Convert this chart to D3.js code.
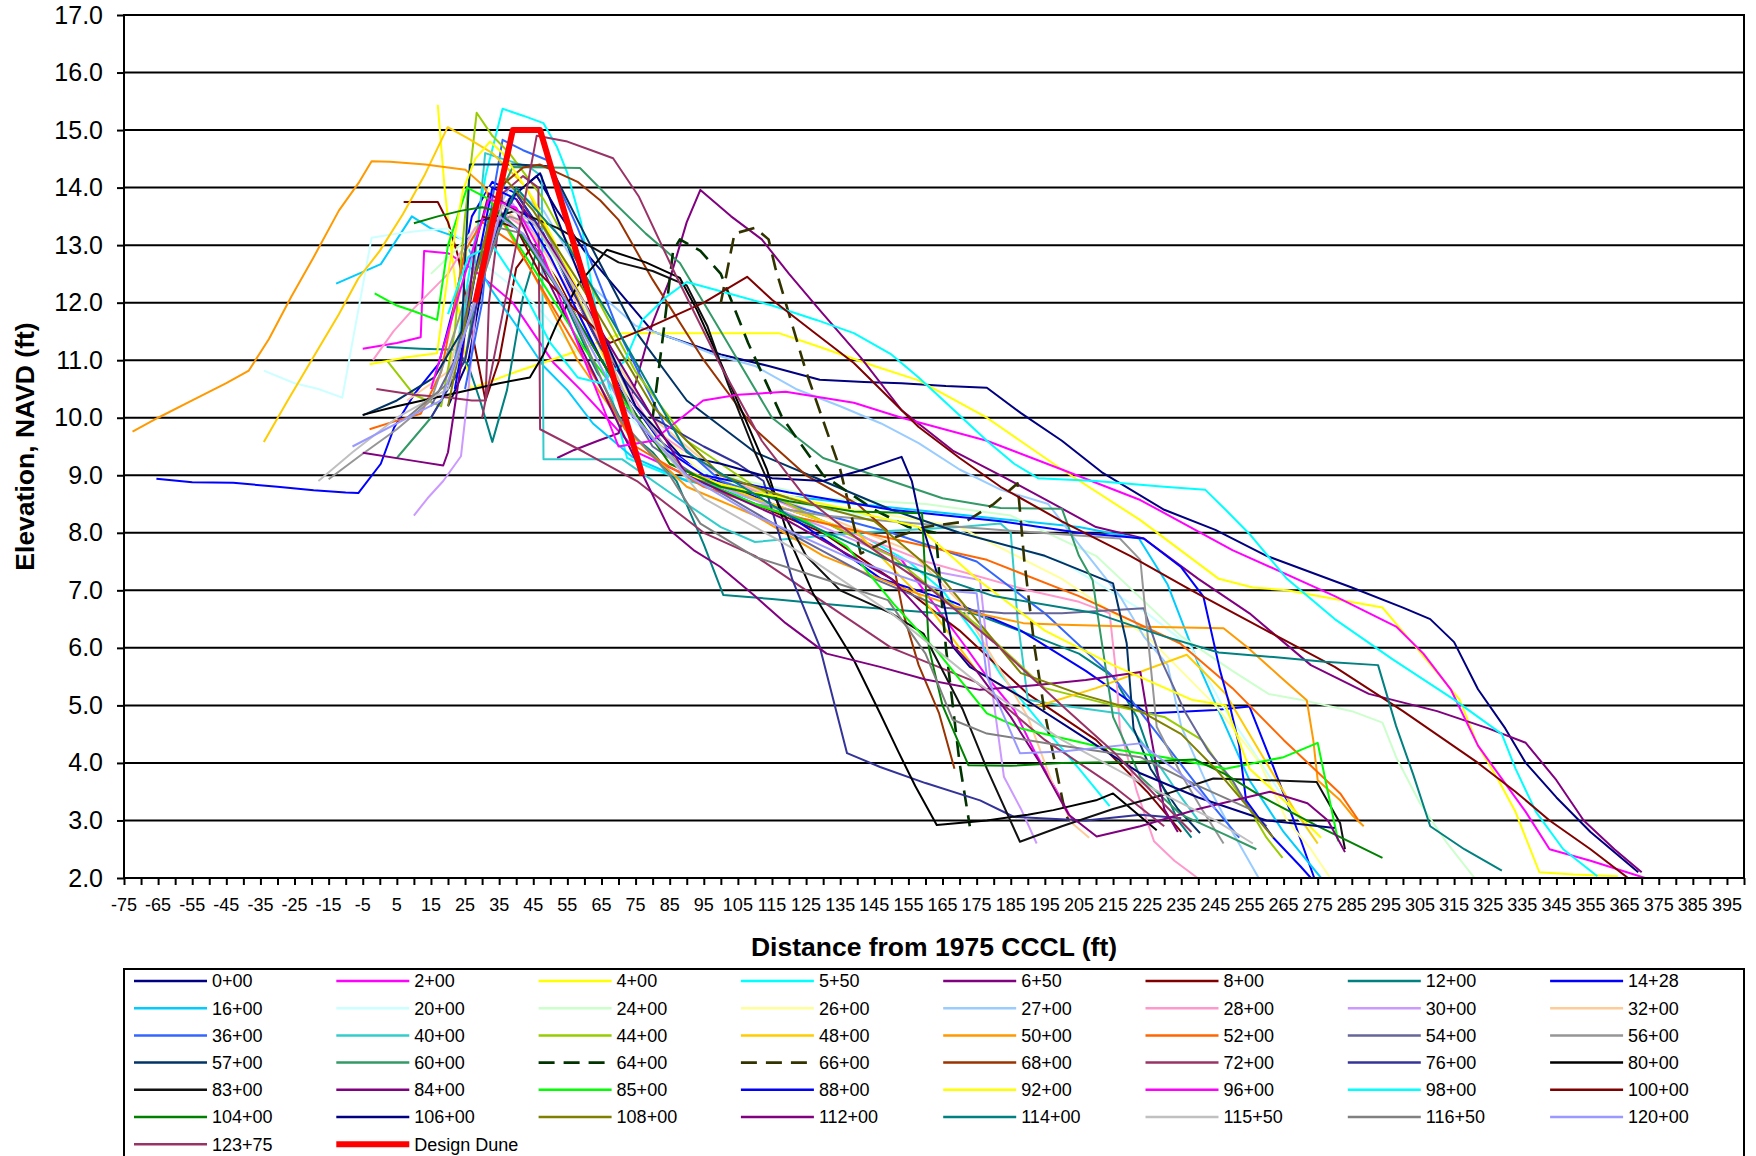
<!DOCTYPE html>
<html>
<head>
<meta charset="utf-8">
<script src="https://cdn.jsdelivr.net/npm/d3@7"></script>
<style>
  html, body { margin: 0; padding: 0; background: #fff; }
  svg text { font-family: "Liberation Sans", Arial, sans-serif; fill: #000; }
</style>
</head>
<body>
<svg id="chart" width="1756" height="1156"></svg>
<script>
// ---- data: beach profiles, [distance ft, elevation ft NAVD] ----
const s0_00 = [[20,10.2],[26,11.0],[31,12.6],[38,13.8],[46,14.2],[52,13.6],[60,12.9],[70,12.2],[80,11.5],[90,11.3],[100,11.1],[114,10.9],[129,10.66],[142,10.62],[153,10.6],[166,10.55],[178,10.52],[188,10.08],[200,9.6],[212,9.04],[230,8.4],[245,8.05],[260,7.6],[285,7.05],[300,6.7],[308,6.5],[315,6.1],[322,5.28],[330,4.6],[336,4.0],[345,3.4],[355,2.8],[369,2.1]];
const s2_00 = [[-5,11.2],[5,11.3],[12,11.4],[13,12.9],[20,12.86],[28,12.55],[39,12.0],[51,10.95],[59,10.48],[68,9.9],[76,9.38],[90,9.0],[110,8.6],[130,8.2],[153,7.53],[162,6.8],[171,6.08],[178,5.5],[186,4.92],[192,4.2],[200,3.35],[203,3.0]];
const s4_00 = [[17,15.44],[19,14.0],[21,12.9],[24,11.5],[26.5,10.5],[40,10.8],[55,11.1],[71,11.47],[90,11.47],[105,11.47],[117,11.47],[129,11.23],[145,10.9],[158,10.65],[178,10.0],[200,9.1],[223,8.22],[246,7.2],[256,7.05],[266,7.0],[280,6.85],[294,6.7],[304,6.0],[316.6,5.1],[322,4.3],[328,3.7],[333,3.15],[340,2.1],[350,2.06],[363,2.03]];
const s5_50 = [[22,11.0],[27,12.8],[31,14.2],[36,15.37],[42,15.25],[48,15.12],[52,14.7],[55,14.25],[59,13.4],[63,12.0],[67,10.6],[72.5,9.3],[85,9.0],[100,8.75],[120,8.4],[140,8.0],[155,7.5],[165,7.0],[175,6.2],[182,5.54],[195,4.6],[205,3.9],[214,3.25]];
const s6_50 = [[52,9.3],[57,9.44],[64,9.6],[70,9.73],[75,10.6],[80,11.65],[85,12.4],[90,13.4],[94,13.96],[103,13.5],[112,13.1],[120,12.5],[129,11.87],[141,11.05],[153,10.13],[168,9.43],[182,9.0],[197,8.52],[210,8.1],[224,7.9],[240,7.2],[255,6.6],[273,5.7],[290,5.2],[310,4.9],[325,4.6],[336,4.35],[345,3.7],[353,3.0],[362,2.5],[370,2.1]];
const s8_00 = [[7,13.75],[17,13.75],[20,13.4],[23,12.8],[27,11.5],[31,10.3],[35,11.0],[40,12.6],[45,13.0],[52,12.4],[60,11.5],[75,10.0],[90,9.0],[110,8.5],[130,8.0],[150,7.2],[170,6.3],[190,5.2],[210,4.4],[225,3.5],[235,2.8]];
const s12_00 = [[2,11.23],[12,11.2],[22.6,11.18],[26,10.9],[29.4,10.3],[33,9.58],[37.3,10.48],[42,12.1],[46,12.9],[52,12.3],[62,11.0],[72,9.8],[80,9.4],[87,8.9],[95,7.8],[100.7,6.92],[115,6.85],[129,6.77],[139,6.72],[164,6.6],[174,6.6],[192,6.2],[205,5.9],[215,5.5],[222,4.8],[228,3.8],[234,3.0],[238,2.7]];
const s14_28 = [[-65.5,8.94],[-55,8.88],[-43,8.87],[-30,8.8],[-19.4,8.74],[-10,8.7],[-6.3,8.69],[0.3,9.2],[4.2,9.83],[10,10.4],[17.3,10.94],[22,12.0],[27,13.5],[33,14.1],[40,13.9],[48,13.2],[58,12.0],[70,10.6],[82,9.6],[95,9.0],[115,8.5],[135,7.7],[147,7.2],[168,6.8],[188,6.3],[207,5.6],[225,4.86],[245,4.92],[255,4.98],[262,3.93],[268,3.0],[274,2.0]];
const s16_00 = [[-12.8,12.33],[0.3,12.67],[9.4,13.5],[14.7,13.3],[24.4,13.1],[33,12.2],[41,11.52],[48,10.9],[55,10.48],[62.5,9.9],[74,9.32],[90,8.9],[110,8.7],[140,8.5],[165,8.35],[182,8.24],[205,8.1],[222.6,7.9],[231,7.1],[240.8,5.6],[255,3.7],[265,2.8],[276,2.0]];
const s20_00 = [[-34,10.82],[-25,10.6],[-18,10.5],[-11,10.35],[-2.4,13.13],[5,13.2],[12,13.25],[19.9,13.29],[26,13.0],[32,12.6],[45,12.0],[60,11.0],[75,9.9],[90,9.2],[105,8.8],[130,8.4],[165,8.1],[200,7.5],[225,6.6],[238,6.0],[247,5.0],[255,4.3],[266,3.3],[275,2.6]];
const s24_00 = [[15,12.5],[22,12.9],[28,13.3],[35,13.8],[45,13.4],[60,11.9],[80,10.0],[100,9.0],[130,8.6],[160,8.5],[185,8.3],[210,7.6],[235,6.2],[250,5.6],[260.6,5.2],[270,5.1],[285,4.9],[294,4.7],[298,4.1],[305,3.3],[313,2.6],[321,2.0]];
const s26_00 = [[20,11.0],[26,13.0],[32,14.0],[42,13.5],[55,12.0],[75,10.2],[95,9.0],[130,8.5],[170,8.1],[200,7.2],[225,6.2],[245,5.0],[258,4.0],[266,3.0],[273,2.5],[278.7,2.0]];
const s27_00 = [[20,10.8],[26,12.0],[31,13.2],[38,14.0],[48,13.6],[60,12.4],[75,11.6],[85,11.4],[98,11.1],[110,10.9],[122,10.5],[135,10.2],[147,9.9],[158,9.56],[170,9.1],[182,8.75],[196,8.5],[205,7.8],[217,6.9],[224,6.2],[231,5.7],[235,4.63],[242,3.7],[250,2.8],[257.7,2.0]];
const s28_00 = [[-2,11.0],[4,11.5],[10,11.9],[20,12.5],[28,13.3],[35,13.6],[45,13.2],[60,11.8],[80,9.8],[100,9.0],[130,8.2],[160,7.5],[190,7.0],[205,6.8],[214,6.6],[216,5.5],[217,4.6],[222,3.5],[227,2.64],[233,2.3],[239.8,2.0]];
const s30_00 = [[10,8.3],[14,8.6],[18.6,8.9],[23.8,9.33],[26,10.5],[28,11.8],[32,13.5],[38,13.8],[50,12.8],[65,11.0],[80,9.6],[100,8.8],[130,8.1],[150,7.6],[165,7.3],[176,7.18],[179,5.5],[183,3.76],[188,3.2],[192.6,2.6]];
const s32_00 = [[8,10.3],[20,10.8],[26,12.0],[30,13.0],[35,13.7],[45,13.2],[60,11.8],[80,10.0],[100,9.0],[130,8.3],[155,7.7],[170,6.8],[180,5.8],[190,4.8],[197.5,3.6],[203,2.95],[208,2.7]];
const s36_00 = [[25,10.5],[30,12.0],[33,13.8],[36,14.83],[42,14.65],[49,14.48],[58,13.3],[70,11.5],[85,9.7],[100,8.9],[125,8.4],[150,8.0],[175,7.5],[195,6.6],[215,5.5],[232,4.2],[245,3.2],[252,2.7]];
const s40_00 = [[22,11.0],[28,12.8],[30.9,14.6],[36,14.5],[44,14.35],[47.5,14.2],[48,9.28],[60,9.28],[71,9.28],[85,8.7],[100,8.1],[110,7.84],[140,8.0],[170,8.1],[182,8.16],[185,8.0],[187,6.5],[190,5.1],[200,5.0],[217,4.86],[228,4.0],[235,3.4],[240,3.0]];
const s44_00 = [[2,11.0],[10,10.4],[18,10.2],[22,11.5],[25,13.5],[28.4,15.3],[33,14.9],[38,14.6],[48,13.8],[60,12.5],[75,10.8],[90,9.6],[110,8.8],[130,8.2],[150,7.6],[175,6.4],[195,5.3],[215,5.0],[230,4.8],[241,4.4],[248,3.8],[255,3.2],[260,2.7],[264.7,2.35]];
const s48_00 = [[-34,9.58],[-27,10.3],[-19.4,11.06],[-12,11.8],[-6.3,12.42],[0,12.9],[6.8,13.54],[13,14.2],[19.9,15.05],[26,14.85],[33,14.6],[43,14.0],[55,12.5],[70,10.5],[85,9.2],[110,8.6],[140,8.0],[160,6.8],[175,5.6],[192.6,4.98],[210,5.3],[236.6,5.88],[248,5.2],[258,4.2],[268,3.2],[275,2.6]];
const s50_00 = [[-72.5,9.76],[-65,10.0],[-55,10.3],[-45,10.6],[-38.4,10.82],[-32.5,11.37],[-26,12.1],[-19.4,12.79],[-12,13.6],[-6,14.1],[-2.4,14.46],[3,14.45],[13.4,14.4],[20,14.35],[25.1,14.31],[30.4,14.03],[36,13.4],[45,12.5],[58,11.0],[72,9.8],[90,8.8],[110,8.3],[130,7.6],[155,7.0],[175,6.6],[188.7,6.43],[200.4,6.4],[220,6.37],[247.4,6.34],[254.2,6.02],[264,5.5],[271.8,5.09],[273.7,4.4],[275,3.7],[281.6,3.35],[285,3.1],[288.5,2.9]];
const s52_00 = [[-3,9.8],[5,9.95],[12,10.07],[18,10.8],[22,12.0],[25,12.9],[30,13.4],[40,13.0],[55,11.5],[75,9.5],[95,8.8],[120,8.3],[150,7.9],[178,7.53],[205,6.9],[234.6,6.08],[250,5.3],[265,4.4],[281.6,3.47],[287,3.0]];
const s54_00 = [[15,10.2],[22,11.0],[28,12.5],[35,13.6],[45,13.0],[60,11.5],[80,9.5],[100,8.7],[120,8.0],[145,7.2],[165,6.7],[183,6.6],[200,6.6],[224,6.69],[229,5.8],[236,4.9],[243,4.2],[250,3.7],[255,3.2],[260,2.9]];
const s56_00 = [[-15,8.93],[-6,9.33],[5,9.8],[15,10.3],[22,11.5],[30,13.0],[38,13.5],[48,13.3],[60,12.0],[75,10.2],[90,9.0],[110,8.5],[130,8.3],[160,8.15],[182,8.05],[217,7.9],[223,7.53],[224.9,6.37],[227.8,4.63],[235,3.8],[241,3.2],[247.4,2.6]];
const s57_00 = [[-5,10.04],[5,10.3],[16,10.7],[24,11.5],[26.4,14.4],[40,14.4],[50,14.37],[60,13.2],[75,11.5],[90,10.3],[110,9.4],[130,8.9],[150,8.4],[170,8.0],[195,7.6],[215,7.12],[219,6.08],[221,4.6],[226,3.9],[234,3.2],[240.5,2.78]];
const s60_00 = [[5,9.3],[15,10.0],[25,11.0],[32,13.5],[39,14.36],[50,14.35],[58.7,14.34],[68,13.78],[78,13.2],[88,12.69],[100,11.5],[115,10.0],[130,9.3],[150,8.9],[165,8.6],[182,8.43],[200,8.42],[205,7.6],[209,7.18],[211,6.37],[215,4.8],[223,3.76],[235,3.1],[248,2.75],[257,2.5]];
const s64_00 = [[80,10.0],[83,11.4],[86,12.9],[88,13.1],[94,12.9],[100,12.5],[108,11.3],[118,10.0],[130,9.0],[145,8.4],[155,8.1],[163,8.0],[166,6.0],[170,4.0],[173,2.9]];
const s66_00 = [[100,12.0],[104,13.2],[110,13.3],[114,13.1],[116,12.6],[125,10.8],[135,9.1],[141,7.64],[150,7.9],[160,8.1],[172,8.2],[180,8.5],[187,8.86],[189,7.5],[192,6.0],[195,4.86],[201,3.12],[202,3.0]];
const s68_00 = [[28,12.5],[35,14.0],[42,14.35],[47,14.4],[58,14.1],[64.6,13.78],[70,13.44],[80,12.4],[95,11.0],[110,9.8],[125,9.0],[140,8.5],[148.6,8.05],[153.5,6.6],[158,5.7],[164,4.86],[168.5,3.9]];
const s72_00 = [[-1,10.5],[10,10.4],[20,10.35],[27,10.3],[31,10.3],[32,12.0],[36,13.9],[42,14.2],[46.5,14.0],[47,9.8],[60,9.4],[75.4,8.9],[95,8.0],[110,7.6],[130,6.8],[150,6.0],[175,5.4],[195,4.4],[215,3.6],[230,2.9]];
const s76_00 = [[15,10.0],[25,11.0],[32,13.0],[40,13.9],[50,13.0],[65,11.2],[80,10.0],[95,9.5],[105,9.2],[112.5,8.9],[121,7.18],[129,6.02],[137,4.17],[146.7,3.93],[160,3.65],[176,3.35],[186,3.06],[207,3.0],[223,3.1],[235,3.04]];
const s80_00 = [[-5,10.05],[5,10.2],[20,10.4],[35,10.6],[44,10.7],[48,11.1],[52,11.64],[58,12.3],[66.6,12.92],[78,12.7],[88,12.43],[93,11.87],[100,10.95],[107,10.0],[113.5,9.1],[120,7.9],[127,6.95],[139,5.79],[146.7,4.86],[152,4.2],[157,3.6],[163.3,2.92],[178,3.0],[190,3.1],[197.5,3.18],[210,3.35],[215,3.47],[227.8,2.83]];
const s83_00 = [[28,13.4],[40,13.6],[52,13.3],[60,13.04],[70,12.7],[80,12.55],[90,12.3],[96,11.6],[102,10.6],[110,9.4],[116,8.6],[125,7.6],[135,7.0],[150,6.6],[159.4,6.25],[171,4.92],[178,3.9],[187.7,2.63],[200,2.9],[215,3.2],[230,3.45],[244.4,3.73],[260,3.7],[274.7,3.67],[281.6,2.95],[283,2.5]];
const s84_00 = [[-5,9.39],[10,9.25],[18.6,9.17],[20,9.4],[24,11.0],[28,13.0],[32,13.9],[40,13.6],[50,12.3],[65,10.5],[78,8.9],[85,8.05],[92,7.7],[99.8,7.41],[110,6.9],[119,6.43],[131,5.9],[146.7,5.67],[160,5.45],[176,5.27],[192,5.35],[207,5.44],[223,5.58],[226,4.5],[230,3.2],[234,2.8]];
const s85_00 = [[-1.5,12.16],[5,11.95],[10,11.85],[16.8,11.7],[20,13.0],[25.6,14.0],[32,13.8],[45,12.6],[60,11.2],[75,10.0],[90,9.0],[110,8.5],[125,8.2],[137,7.76],[150.6,6.77],[164,5.9],[178,4.86],[188,4.6],[211,4.28],[230,4.1],[248,3.9],[265,4.1],[275,4.35],[281,2.64]];
const s88_00 = [[22,10.5],[28,12.5],[33,14.0],[40,13.8],[50,12.8],[65,11.0],[80,9.6],[95,9.0],[120,8.7],[150,8.4],[182,8.2],[205,8.0],[224,7.9],[235,7.4],[241.5,6.89],[246.4,5.6],[249.3,4.98],[252,4.3],[254,3.35],[262,2.7],[270,2.2],[273,2.0]];
const s92_00 = [[-3,10.93],[8,11.05],[16.8,11.12],[20,12.5],[24.4,13.96],[28,14.5],[32.3,14.8],[36,14.6],[45,13.8],[60,12.0],[75,10.0],[90,9.0],[110,8.7],[130,8.5],[158,8.1],[175,7.2],[195,6.3],[215,5.7],[238,5.1],[248,5.0],[255,3.9],[266,3.3],[276,2.7]];
const s96_00 = [[15,10.5],[25,12.5],[32,13.8],[40,13.65],[48,12.8],[60,11.0],[70,9.5],[80,9.6],[94.8,10.3],[105,10.4],[119,10.45],[139,10.26],[153,10.0],[178,9.6],[200,9.1],[223,8.57],[250,7.7],[280,6.9],[298,6.37],[306,5.9],[314,5.28],[322,4.3],[336,3.15],[343,2.5],[355,2.3],[371,2.0]];
const s98_00 = [[20,11.8],[26,12.8],[33,13.0],[42,12.2],[50,11.3],[58,10.7],[65,10.6],[72,11.0],[77,11.7],[84,12.1],[90,12.36],[100,12.2],[115,11.95],[128,11.7],[139,11.47],[150,11.1],[158,10.7],[168,10.15],[178,9.6],[186,9.2],[193,8.95],[210,8.9],[230,8.8],[242,8.75],[248,8.4],[255,7.98],[266,7.2],[280,6.5],[297,5.8],[315,5.1],[329,4.5],[333,3.9],[339,3.15],[347,2.5],[357,2.03]];
const s100_00 = [[30,13.5],[40,13.3],[47,12.5],[57,11.9],[67.5,11.3],[80,11.6],[95,12.0],[107.7,12.45],[115,12.05],[127,11.5],[139,10.95],[158,9.84],[170,9.3],[182,8.8],[200,8.2],[220,7.6],[238,7.0],[260,6.3],[280,5.67],[300,4.9],[322,4.0],[333,3.5],[343,3.0],[355,2.5],[366,2.0]];
const s104_00 = [[10,13.38],[17,13.5],[24,13.6],[30,13.66],[34,13.6],[40,13.3],[55,12.0],[70,10.5],[85,9.2],[100,8.8],[120,8.55],[139,8.37],[159,8.34],[161,6.0],[165,5.0],[172.6,3.96],[185,3.95],[200,4.0],[223,4.02],[239,4.06],[248,3.8],[259,3.4],[275,2.9],[294,2.35]];
const s106_00 = [[20,10.5],[30,12.5],[38,13.8],[47,14.25],[55,13.0],[65,11.5],[75,10.2],[88,9.35],[100,9.2],[115,8.95],[130,8.9],[142,9.1],[153,9.32],[156,8.9],[158,8.34],[164,7.18],[168,6.02],[173,5.67],[188,5.15],[205,4.5],[223,3.82],[240,3.4],[260,3.0],[280,2.87]];
const s108_00 = [[20,10.2],[28,12.5],[36,14.2],[45,13.6],[60,12.2],[80,10.2],[100,9.0],[120,8.6],[145,8.2],[165,7.2],[188,5.56],[205,5.2],[223,4.9],[235,4.5],[245,3.9],[255,3.2],[262,2.7]];
const s112_00 = [[40,13.8],[50,13.0],[70,11.0],[90,9.0],[120,8.2],[150,7.2],[175,5.6],[185,4.8],[193.6,4.0],[202,3.1],[210.2,2.72],[223,2.9],[240,3.2],[261,3.5],[272,3.3],[278,3.0],[283,2.45]];
const s114_00 = [[30,12.5],[40,14.0],[55,13.0],[70,11.5],[90,9.4],[120,8.3],[150,7.5],[180,6.9],[210,6.6],[230,6.2],[246,5.92],[262,5.84],[277,5.76],[292.7,5.7],[298,4.64],[303,3.8],[308,2.9],[318,2.5],[329,2.13]];
const s115_50 = [[-18,8.9],[-8,9.4],[5,10.0],[20,10.5],[30,12.5],[36,13.7],[45,13.4],[60,12.0],[75,10.0],[95,8.6],[125,7.6],[150,6.6],[175,5.4],[200,4.4],[225,3.6],[245,3.0],[256,2.6]];
const s116_50 = [[8,10.0],[20,10.6],[28,12.0],[35,13.3],[42,13.2],[55,12.0],[70,10.0],[85,9.0],[94,8.16],[110,7.58],[130,7.2],[149,6.83],[160,5.9],[168,4.75],[178,4.51],[200,4.3],[223,4.1],[240,3.6],[255,3.2]];
const s120_00 = [[-8,9.5],[5,9.9],[18,10.3],[28,12.0],[35,13.5],[42,13.2],[55,12.0],[70,10.3],[90,9.0],[110,8.3],[140,7.5],[165,7.0],[175,6.95],[178,5.5],[187.7,4.17],[200,4.2],[223,4.34],[235,3.8],[245,3.2]];
const s123_75 = [[30,10.0],[36,11.8],[40,13.0],[46,14.9],[55,14.8],[62,14.65],[68.4,14.51],[76,13.84],[87,12.45],[100,10.9],[112,9.6],[125,8.6],[140,7.9],[160,7.1],[180,6.1],[200,5.0],[215,4.2],[228,3.4],[238,2.8]];
const designDune = [[28,12.0],[39,15.0],[47,15.0],[77,9.0]];

const seriesNames = ["0+00","2+00","4+00","5+50","6+50","8+00","12+00","14+28",
  "16+00","20+00","24+00","26+00","27+00","28+00","30+00","32+00",
  "36+00","40+00","44+00","48+00","50+00","52+00","54+00","56+00",
  "57+00","60+00","64+00","66+00","68+00","72+00","76+00","80+00",
  "83+00","84+00","85+00","88+00","92+00","96+00","98+00","100+00",
  "104+00","106+00","108+00","112+00","114+00","115+50","116+50","120+00",
  "123+75","Design Dune"];
const seriesData = [s0_00,s2_00,s4_00,s5_50,s6_50,s8_00,s12_00,s14_28,
  s16_00,s20_00,s24_00,s26_00,s27_00,s28_00,s30_00,s32_00,
  s36_00,s40_00,s44_00,s48_00,s50_00,s52_00,s54_00,s56_00,
  s57_00,s60_00,s64_00,s66_00,s68_00,s72_00,s76_00,s80_00,
  s83_00,s84_00,s85_00,s88_00,s92_00,s96_00,s98_00,s100_00,
  s104_00,s106_00,s108_00,s112_00,s114_00,s115_50,s116_50,s120_00,
  s123_75,designDune];

// styles (Excel default line palette)
const seriesColors = ["#000080","#FF00FF","#FFFF00","#00FFFF","#800080","#800000","#008080","#0000FF",
  "#00CCFF","#CCFFFF","#CCFFCC","#FFFF99","#99CCFF","#FF99CC","#CC99FF","#FFCC99",
  "#3366FF","#33CCCC","#99CC00","#FFCC00","#FF9900","#FF6600","#666699","#969696",
  "#003366","#339966","#003300","#333300","#993300","#993366","#333399","#000000",
  "#111111","#800080","#00FF00","#0000FF","#FFFF00","#FF00FF","#00FFFF","#800000",
  "#008000","#000080","#808000","#800080","#008080","#C0C0C0","#808080","#9999FF",
  "#993366","#FF0000"];
const dashedSeries = ["64+00","66+00"];

const xTicks = d3.range(-75, 401, 5);
const xLabels = d3.range(-75, 396, 10);
const yTicks = d3.range(2, 17.01, 1);

// ---- layout ----
const svg = d3.select("#chart");
const L = 124, R = 1744, T = 15, B = 878;

const x = d3.scaleLinear().domain([-75, 400]).range([L, R]);
const y = d3.scaleLinear().domain([2, 17]).range([B, T]);

// grid lines
svg.append("g")
  .selectAll("line")
  .data(yTicks)
  .join("line")
  .attr("x1", L).attr("x2", R)
  .attr("y1", d => y(d)).attr("y2", d => y(d))
  .attr("stroke", "#000").attr("stroke-width", 2);

// clip
svg.append("clipPath").attr("id", "plotclip")
  .append("rect").attr("x", L).attr("y", T - 4).attr("width", R - L).attr("height", B - T + 4);

const line = d3.line().x(d => x(d[0])).y(d => y(d[1]));

const plot = svg.append("g").attr("clip-path", "url(#plotclip)");
seriesData.forEach((data, i) => {
  const name = seriesNames[i];
  const isDune = name === "Design Dune";
  plot.append("path")
    .datum(data)
    .attr("d", line)
    .attr("fill", "none")
    .attr("stroke", seriesColors[i])
    .attr("stroke-width", isDune ? 6 : (dashedSeries.includes(name) ? 2.6 : 2))
    .attr("stroke-dasharray", dashedSeries.includes(name) ? "16,9" : null)
    .attr("stroke-linejoin", "round");
});

// frame
svg.append("rect")
  .attr("x", L).attr("y", T).attr("width", R - L).attr("height", B - T)
  .attr("fill", "none").attr("stroke", "#000").attr("stroke-width", 2);

// y axis
const yAxis = svg.append("g").attr("transform", `translate(${L},0)`)
  .call(d3.axisLeft(y).tickValues(yTicks).tickFormat(d3.format(".1f")).tickSize(7).tickPadding(14));
yAxis.select(".domain").remove();
yAxis.selectAll("line").attr("stroke", "#000").attr("stroke-width", 2);
yAxis.selectAll("text")
  .style("font-family", "'Liberation Sans', Arial, sans-serif")
  .style("font-size", "25px").attr("fill", "#000");

// x axis
const xAxis = svg.append("g").attr("transform", `translate(0,${B})`)
  .call(d3.axisBottom(x).tickValues(xTicks).tickFormat("").tickSize(7));
xAxis.select(".domain").remove();
xAxis.selectAll("line").attr("stroke", "#000").attr("stroke-width", 2);

svg.append("g")
  .selectAll("text")
  .data(xLabels)
  .join("text")
  .attr("x", d => x(d))
  .attr("y", 911)
  .attr("text-anchor", "middle")
  .style("font-size", "18px")
  .text(d => d);

// axis titles
svg.append("text")
  .attr("x", (L + R) / 2).attr("y", 956)
  .attr("text-anchor", "middle")
  .style("font-size", "26.5px").style("font-weight", "bold")
  .text("Distance from 1975 CCCL (ft)");

svg.append("text")
  .attr("transform", `translate(34,${(T + B) / 2}) rotate(-90)`)
  .attr("text-anchor", "middle")
  .style("font-size", "26.5px").style("font-weight", "bold")
  .text("Elevation, NAVD (ft)");

// legend
svg.append("rect")
  .attr("x", L).attr("y", 969).attr("width", R - L).attr("height", 220)
  .attr("fill", "#fff").attr("stroke", "#000").attr("stroke-width", 2);

const legend = svg.append("g")
  .selectAll("g")
  .data(seriesNames)
  .join("g")
  .attr("transform", (d, i) => `translate(${134 + (i % 8) * 202.3},${981 + Math.floor(i / 8) * 27.2})`);

legend.append("line")
  .attr("x1", 0).attr("x2", 73).attr("y1", 0).attr("y2", 0)
  .attr("stroke", (d, i) => seriesColors[i])
  .attr("stroke-width", d => d === "Design Dune" ? 6 : (dashedSeries.includes(d) ? 2.6 : 2.5))
  .attr("stroke-dasharray", d => dashedSeries.includes(d) ? "16,9" : null);

legend.append("text")
  .attr("x", 78).attr("y", 0)
  .attr("dy", "0.35em")
  .style("font-size", "18px")
  .text(d => d);
</script>
</body>
</html>
